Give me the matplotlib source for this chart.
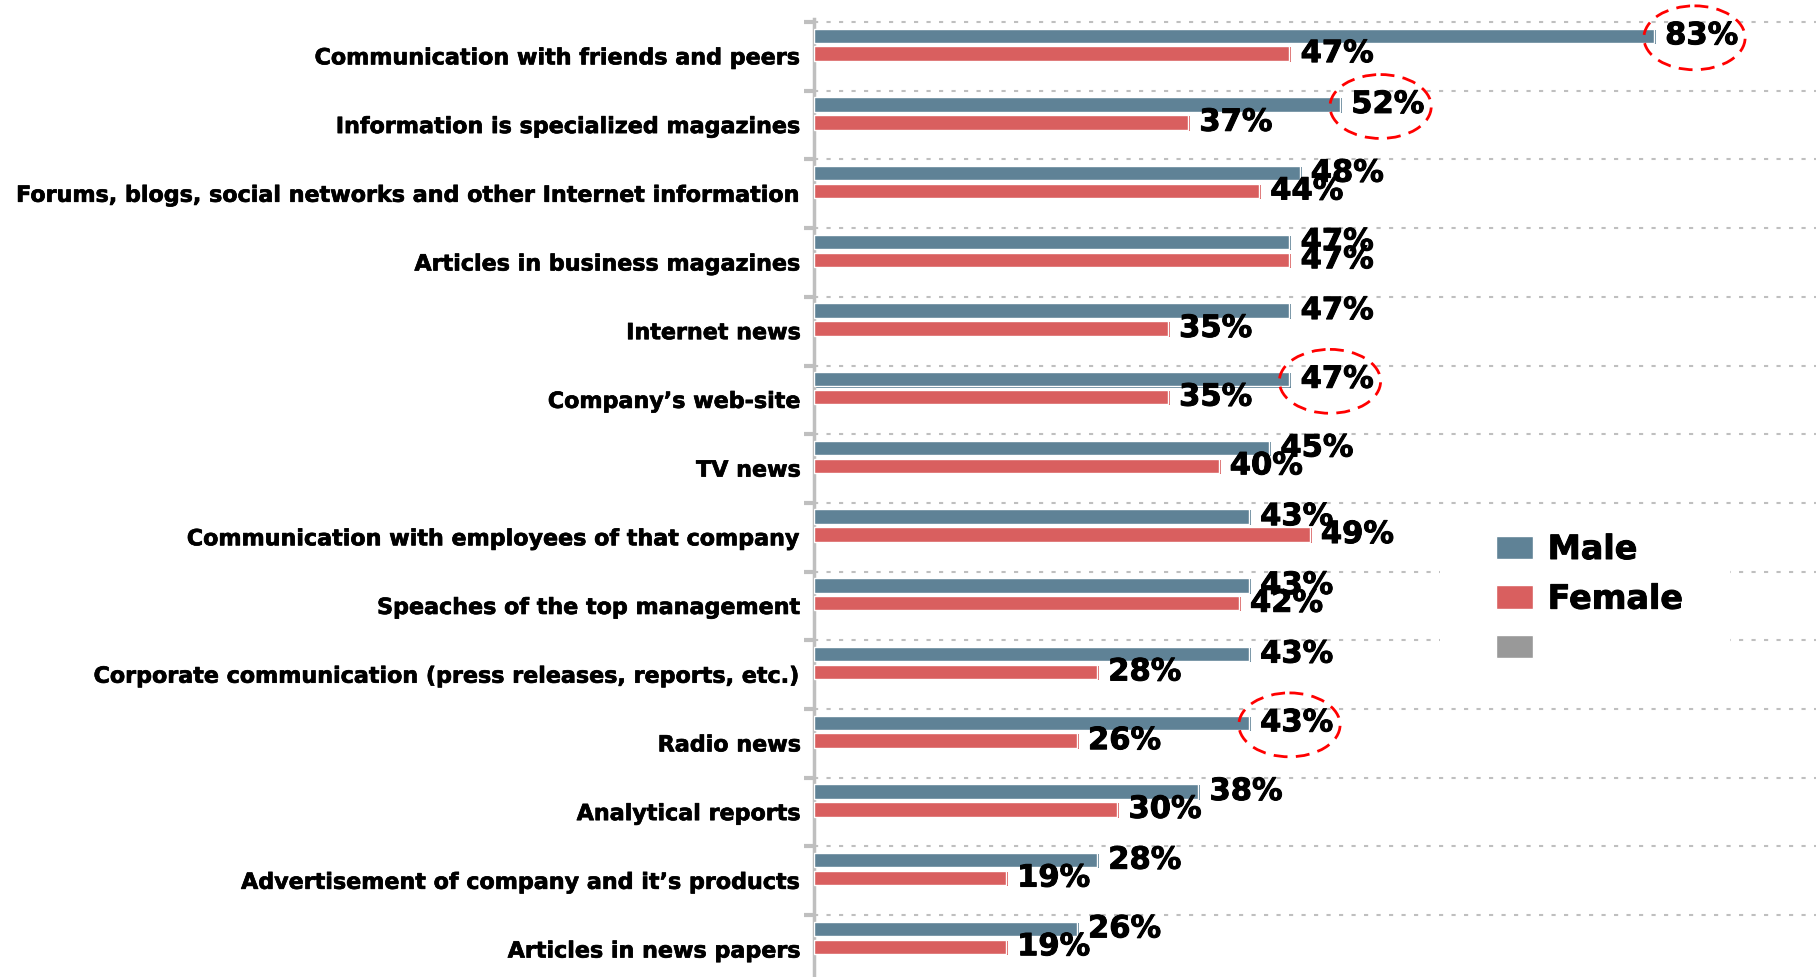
import matplotlib
matplotlib.use("Agg")
import matplotlib.pyplot as plt
from matplotlib.patches import Ellipse, Patch, Rectangle
import matplotlib.patheffects as pe
import numpy as np

categories = [
    "Communication with friends and peers",
    "Information is specialized magazines",
    "Forums, blogs, social networks and other Internet information",
    "Articles in business magazines",
    "Internet news",
    "Company\u2019s web-site",
    "TV news",
    "Communication with employees of that company",
    "Speaches of the top management",
    "Corporate communication (press releases, reports, etc.)",
    "Radio news",
    "Analytical reports",
    "Advertisement of company and it\u2019s products",
    "Articles in news papers",
]
male = [83, 52, 48, 47, 47, 47, 45, 43, 43, 43, 43, 38, 28, 26]
female = [47, 37, 44, 47, 35, 35, 40, 49, 42, 28, 26, 30, 19, 19]
highlighted = [0, 1, 5, 10]
series_names = ["Male", "Female", ""]

c_male = "#5F8296"
c_female = "#D95F5F"
c_gray = "#999999"
c_grid = "#BFBFBF"

plt.rcParams['font.family'] = ['DejaVu Sans']
plt.rcParams['font.weight'] = 'bold'

heavy = [pe.withStroke(linewidth=0.7, foreground="black")]

fig = plt.figure(figsize=(18.16, 9.78), dpi=100)
ax = fig.add_axes([0.448, 0.0, 0.552, 0.98])

y = np.arange(len(categories))
h = 0.21
ym = y - 0.30
yf = y - 0.04

# shadow bars
ax.barh(ym + 0.015, np.array(male) + 0.2, height=h, color=c_male, zorder=2)
ax.barh(yf + 0.015, np.array(female) + 0.2, height=h, color=c_female, zorder=2)
ax.barh(ym, male, height=h, color=c_male, edgecolor="white", linewidth=1.0, zorder=3)
ax.barh(yf, female, height=h, color=c_female, edgecolor="white", linewidth=1.0, zorder=3)

for i in range(len(categories)):
    ax.text(male[i] + 1.1, ym[i], f"{male[i]}%", va="center", ha="left",
            fontsize=22, fontweight="bold", color="black", zorder=5,
            path_effects=heavy)
    ax.text(female[i] + 1.1, yf[i], f"{female[i]}%", va="center", ha="left",
            fontsize=22, fontweight="bold", color="black", zorder=5,
            path_effects=heavy)

for i in highlighted:
    e = Ellipse((male[i] + 4.0, y[i] - 0.27), width=10.0, height=0.93,
                fill=False, edgecolor="#FF0000", linewidth=2.0,
                linestyle=(0, (5, 3)), zorder=6, clip_on=False)
    ax.add_patch(e)

# gridlines at category boundaries
for g in y - 0.5:
    ax.axhline(g, color=c_grid, linewidth=1.5, linestyle=(0, (2, 4)), zorder=1)

ax.set_xlim(0, 99)
ax.set_ylim(13.4, -0.55)
ax.set_yticks(y)
ax.set_yticklabels(categories, fontsize=16, fontweight="bold")
for t in ax.get_yticklabels():
    t.set_path_effects([pe.withStroke(linewidth=0.5, foreground="black")])
ax.set_yticks(y - 0.5, minor=True)
ax.tick_params(axis="y", which="major", length=0, pad=9)
ax.tick_params(axis="y", which="minor", length=7, width=3, color=c_grid)
ax.set_xticks([])
for s in ["top", "right", "bottom"]:
    ax.spines[s].set_visible(False)
ax.spines["left"].set_color(c_grid)
ax.spines["left"].set_linewidth(2.5)

# white background behind legend
W, H = 1816, 978
fig.patches.append(Rectangle((1440 / W, 1 - 705 / H), (1730 - 1440) / W, (705 - 510) / H,
                             transform=fig.transFigure, facecolor="white",
                             edgecolor="none", zorder=8))

handles = [Patch(facecolor=c_male, edgecolor="white"),
           Patch(facecolor=c_female, edgecolor="white"),
           Patch(facecolor=c_gray, edgecolor="white")]
leg = fig.legend(handles, series_names, loc="upper left",
                 bbox_to_anchor=(1496 / W, 1 - 534 / H),
                 frameon=False,
                 prop={"size": 24, "weight": "bold"},
                 handlelength=1.1, handleheight=0.7, handletextpad=0.45,
                 labelspacing=0.5, borderpad=0.0, borderaxespad=0)
leg.set_zorder(10)
for t in leg.get_texts():
    t.set_path_effects([pe.withStroke(linewidth=0.7, foreground="black")])

fig.savefig("out.png", dpi=100)
